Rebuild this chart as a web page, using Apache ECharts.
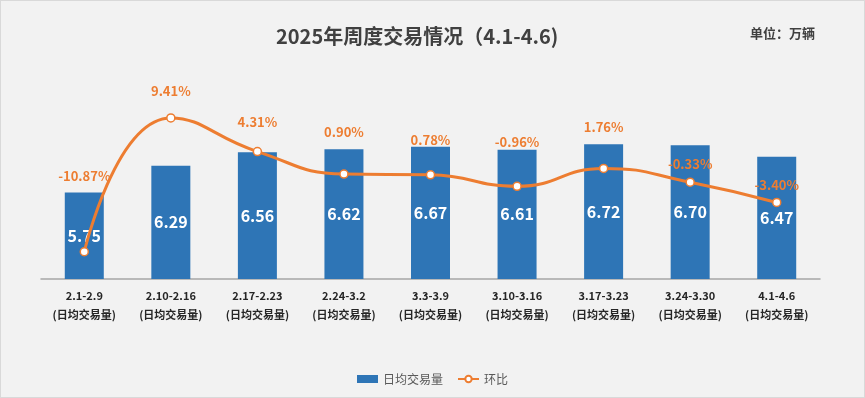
<!DOCTYPE html>
<html>
<head>
<meta charset="utf-8">
<script src="https://cdn.jsdelivr.net/npm/echarts@6/dist/echarts.min.js"></script>
<style>
    html, body { margin: 0; padding: 0; background: #fff; }
    #weekChart {
        width: 863px;
        height: 396px;
        background: #f2f2f2;
        border: 1px solid #d9d9d9;
    }
</style>
</head>
<body>
<div id="weekChart"></div>
<script>
    // 周度数据
    var weeks = ['2.1-2.9', '2.10-2.16', '2.17-2.23', '2.24-3.2', '3.3-3.9', '3.10-3.16', '3.17-3.23', '3.24-3.30', '4.1-4.6'];
    var dailyVolume = [5.75, 6.29, 6.56, 6.62, 6.67, 6.61, 6.72, 6.70, 6.47];
    var ratio = [-10.87, 9.41, 4.31, 0.90, 0.78, -0.96, 1.76, -0.33, -3.40];

    // 环比标签的上移量(像素)
    var ratioLabelShift = [-76, -27, -29, -42, -35, -44, -41, -18, -17];

    var barColor = '#2e75b6';
    var lineColor = '#ed7d31';
    var textColor = '#404040';

    var myChart = echarts.init(document.getElementById('weekChart'));

    var ratioData = ratio.map(function (v, i) {
        return {
            value: v,
            label: { offset: [0, ratioLabelShift[i]] }
        };
    });

    myChart.setOption({
        backgroundColor: '#f2f2f2',
        title: [{
            text: '2025年周度交易情况（4.1-4.6)',
            left: 270,
            top: 20,
            textStyle: {
                color: textColor,
                fontSize: 20,
                fontWeight: 'bold',
                fontFamily: 'Noto Sans CJK SC'
            }
        }, {
            text: '单位：万辆',
            right: 44,
            top: 21,
            textStyle: {
                color: textColor,
                fontSize: 13,
                fontWeight: 'bold',
                fontFamily: 'Noto Sans CJK SC'
            }
        }],
        grid: {
            left: 40,
            right: 44,
            top: 80,
            bottom: 118
        },
        legend: {
            bottom: 7,
            left: 'center',
            itemGap: 14,
            itemWidth: 21,
            itemHeight: 8,
            textStyle: {
                color: '#595959',
                fontSize: 12,
                fontFamily: 'Noto Sans CJK SC'
            },
            data: [
                { name: '日均交易量', icon: 'rect' },
                { name: '环比' }
            ]
        },
        xAxis: {
            type: 'category',
            data: weeks,
            axisTick: { show: false },
            axisLine: {
                onZero: false,
                lineStyle: { color: '#a6a6a6', width: 1.5 }
            },
            axisLabel: {
                interval: 0,
                margin: 7,
                lineHeight: 19,
                color: '#262626',
                fontSize: 11,
                fontWeight: 'bold',
                fontFamily: 'Noto Sans CJK SC',
                formatter: function (v) {
                    return v + '\n(日均交易量)';
                }
            }
        },
        yAxis: [{
            type: 'value',
            min: 4,
            max: 8,
            show: false,
            splitLine: { show: false }
        }, {
            type: 'value',
            min: -15,
            max: 15,
            show: false,
            splitLine: { show: false }
        }],
        series: [{
            name: '日均交易量',
            type: 'bar',
            barWidth: 39,
            itemStyle: { color: barColor },
            label: {
                show: true,
                position: 'inside',
                color: '#fff',
                fontSize: 16,
                fontWeight: 'bold',
                fontFamily: 'Noto Sans CJK SC',
                formatter: function (p) {
                    return p.value.toFixed(2);
                }
            },
            data: dailyVolume
        }, {
            name: '环比',
            type: 'line',
            yAxisIndex: 1,
            smooth: 0.5,
            symbol: 'circle',
            symbolSize: 8,
            lineStyle: { color: lineColor, width: 3 },
            itemStyle: {
                color: '#fff',
                borderColor: lineColor,
                borderWidth: 1.5
            },
            label: {
                show: true,
                position: 'inside',
                color: lineColor,
                fontSize: 13,
                fontWeight: 'bold',
                fontFamily: 'Noto Sans CJK SC',
                formatter: function (p) {
                    return p.value.toFixed(2) + '%';
                }
            },
            data: ratioData
        }]
    });
</script>
</body>
</html>
